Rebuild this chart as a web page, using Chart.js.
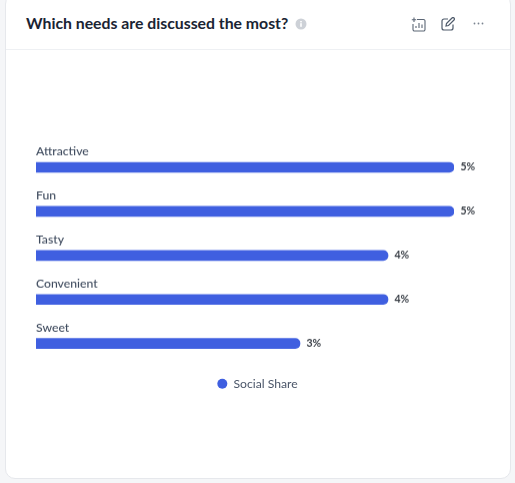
<!DOCTYPE html>
<html>
<head>
<meta charset="utf-8">
<style>
  html, body { margin: 0; padding: 0; width: 515px; height: 483px; overflow: hidden; background: #f5f6f8; }
  .card { position: absolute; left: 5px; top: -6px; width: 504px; height: 483px; background: #fff; border: 1px solid #e6e8ec; border-radius: 10px; box-sizing: content-box; }
  .divider { position: absolute; left: 6px; top: 49px; width: 504px; height: 1px; background: #eef0f3; }
  .title { position: absolute; left: 26px; top: 13px; font: 700 15.8px Lato, sans-serif; color: #1a2433; white-space: nowrap; }
  .icon { position: absolute; }
  #wrap { position: absolute; left: 0; top: 50px; width: 515px; height: 348.75px; }
</style>
</head>
<body>
<div class="card"></div>
<div class="divider"></div>
<div class="title">Which needs are discussed the most?</div>
<svg class="icon" style="left:295px;top:18px" width="12" height="12" viewBox="0 0 12 12">
  <circle cx="6" cy="6" r="5.5" fill="#cdd1d7"/>
  <rect x="5.2" y="5.2" width="1.6" height="3.6" fill="#fff"/>
  <rect x="5.2" y="3" width="1.6" height="1.4" fill="#fff"/>
</svg>
<svg class="icon" style="left:411px;top:17px" width="15" height="15" viewBox="0 0 15 15" fill="none" stroke="#5b6675" stroke-width="1.1">
  <path d="M6 2.5h6.5a1.5 1.5 0 0 1 1.5 1.5v8.5a1.5 1.5 0 0 1-1.5 1.5h-9A1.5 1.5 0 0 1 2 12.500V7"/>
  <path d="M5 11V9M8 11V6M11 11V7.500"/>
  <path d="M3 0.500V5M0.800 2.700H5.200"/>
</svg>
<svg class="icon" style="left:441px;top:17px" width="14" height="14" viewBox="0 0 14 14" fill="none" stroke="#4f5b6b" stroke-width="1.200">
  <path d="M7 2H3a2 2 0 0 0-2 2v7a2 2 0 0 0 2 2h7a2 2 0 0 0 2-2V7.500"/>
  <path d="M5.500 6.500 11 1a1.300 1.300 0 0 1 2 2L7.500 8.500 5 9z"/>
</svg>
<svg class="icon" style="left:473px;top:22px" width="11" height="3" viewBox="0 0 11 3" fill="#7b8490">
  <circle cx="1.500" cy="1.500" r="0.900"/><circle cx="5.500" cy="1.500" r="0.900"/><circle cx="9.500" cy="1.500" r="0.900"/>
</svg>
<div id="wrap"><canvas id="needsChart"></canvas></div>

<script src="https://cdn.jsdelivr.net/npm/chart.js@4"></script>
<script>
const categories = ['Attractive', 'Fun', 'Tasty', 'Convenient', 'Sweet'];
const socialShare = [4.75, 4.75, 4.0, 4.0, 3.0];
const seriesName = 'Social Share';

// category names above the bars, rounded percentages after them
const barLabels = {
  id: 'barLabels',
  afterDatasetsDraw: function(chart) {
    const c = chart.ctx;
    const left = chart.scales.x.left;
    chart.getDatasetMeta(0).data.forEach(function(bar, i) {
      c.save();
      c.textBaseline = 'middle';
      c.textAlign = 'left';
      c.font = '500 12.2px Lato, sans-serif';
      c.fillStyle = '#3f4b5e';
      c.fillText(categories[i], left, bar.y - 16);
      c.font = '700 10.5px Lato, sans-serif';
      c.fillStyle = '#3a3f47';
      c.fillText(Math.round(socialShare[i]) + '%', bar.x + 6.5, bar.y);
      c.restore();
    });
  }
};

new Chart(document.getElementById('needsChart'), {
  type: 'bar',
  data: {
    labels: categories,
    datasets: [{
      label: seriesName,
      data: socialShare,
      backgroundColor: '#3f5fe0',
      barThickness: 10,
      borderRadius: { topRight: 5, bottomRight: 5 },
      borderSkipped: false
    }]
  },
  plugins: [barLabels],
  options: {
    indexAxis: 'y',
    responsive: true,
    maintainAspectRatio: false,
    animation: false,
    layout: { padding: { top: 95 } },
    plugins: {
      tooltip: { enabled: false },
      legend: {
        position: 'bottom',
        labels: {
          usePointStyle: true,
          pointStyleWidth: 10,
          boxHeight: 7.1,
          padding: 12,
          color: '#4a5568',
          font: { family: 'Lato, sans-serif', size: 12.2 }
        }
      }
    },
    scales: {
      x: { display: false, min: 0, max: 4.75 },
      y: {
        grid: { display: false },
        border: { display: false },
        ticks: { display: false },
        afterFit: function(scale) { scale.width = 36; }
      },
      // empty axis keeps the room for the value labels on the right
      yRight: {
        type: 'category',
        position: 'right',
        grid: { display: false },
        border: { display: false },
        ticks: { display: false },
        afterFit: function(scale) { scale.width = 61; }
      }
    }
  }
});
</script>
</body>
</html>
